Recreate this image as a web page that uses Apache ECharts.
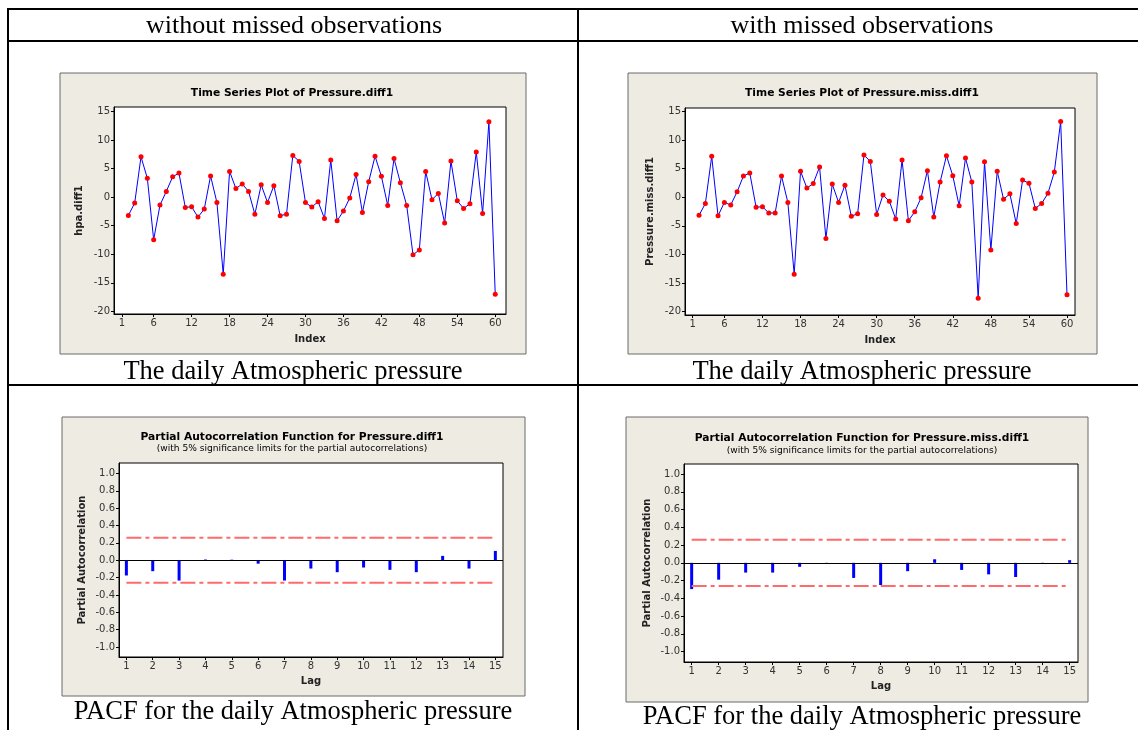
<!DOCTYPE html>
<html>
<head>
<meta charset="utf-8">
<script src="https://cdn.jsdelivr.net/npm/echarts@6/dist/echarts.min.js"></script>
<style>
html, body { margin: 0; padding: 0; background: #fff; }
#charts { width: 1138px; height: 730px; }
</style>
</head>
<body>
<div id="charts"></div>
<script>
// observation index of the differenced series (first value lost by differencing)
var obsIndex = [2,3,4,5,6,7,8,9,10,11,12,13,14,15,16,17,18,19,20,21,22,23,24,25,26,27,28,29,30,31,
	32,33,34,35,36,37,38,39,40,41,42,43,44,45,46,47,48,49,50,51,52,53,54,55,56,57,58,59,60];

var pressureDiff = [-3.2,-1.05,7.05,3.3,-7.45,-1.4,1.0,3.55,4.2,-1.8,-1.7,-3.5,-2.1,3.7,-0.95,-13.5,4.5,1.5,2.3,1.0,
	-3.0,2.15,-0.95,2.0,-3.25,-3.0,7.3,6.25,-0.95,-1.75,-0.8,-3.75,6.5,-4.15,-2.45,-0.15,3.95,-2.7,2.7,7.15,
	3.65,-1.45,6.75,2.5,-1.45,-10.1,-9.25,4.5,-0.45,0.65,-4.55,6.3,-0.65,-2.0,-1.15,7.9,-2.85,13.2,-17.0];

var pressureMissDiff = [-3.15,-1.1,7.15,-3.25,-0.9,-1.35,0.95,3.7,4.25,-1.75,-1.65,-2.75,-2.75,3.7,-0.9,-13.45,4.55,1.6,2.4,5.3,
	-7.2,2.3,-0.9,2.1,-3.3,-2.9,7.4,6.25,-3.0,0.4,-0.7,-3.8,6.5,-4.1,-2.55,-0.1,4.65,-3.45,2.65,7.25,
	3.75,-1.5,6.85,2.65,-17.65,6.2,-9.2,4.55,-0.35,0.6,-4.6,3.0,2.45,-1.95,-1.1,0.7,4.4,13.25,-17.05];

var lags = [1,2,3,4,5,6,7,8,9,10,11,12,13,14,15];
var pacfDiff = [-0.176,-0.126,-0.234,0.008,0.006,-0.04,-0.234,-0.096,-0.138,-0.084,-0.111,-0.138,0.05,-0.096,0.107];
var pacfMissDiff = [-0.296,-0.19,-0.11,-0.11,-0.045,-0.01,-0.17,-0.25,-0.094,0.04,-0.08,-0.13,-0.16,-0.007,0.03];
var sigLimit = 0.26;

var indexTicks = [1,6,12,18,24,30,36,42,48,54,60];
var tsTicks = [-20,-15,-10,-5,0,5,10,15];
var pacfTicks = [-1,-0.8,-0.6,-0.4,-0.2,0,0.2,0.4,0.6,0.8,1];

var myChart = echarts.init(document.getElementById('charts'));

var tickFont = '"DejaVu Sans", sans-serif';
var serif = '"Liberation Serif", "Times New Roman", serif';

function pairs(xs, ys){
	var out = [];
	for(var i = 0; i < xs.length; i++){
		out.push([xs[i], ys[i]]);
	}
	return out;
}

function xAxisCfg(grid, min, max, ticks, name, gap){
	return {
		type: 'value', gridIndex: grid, min: min, max: max,
		name: name, nameLocation: 'middle', nameGap: gap,
		nameTextStyle: { fontFamily: tickFont, fontWeight: 'bold', fontSize: 10, color: '#222' },
		axisLine: { show: true, onZero: false, lineStyle: { color: '#000', width: 1 } },
		axisTick: { show: true, length: 3, customValues: ticks, lineStyle: { color: '#000' } },
		axisLabel: { customValues: ticks, fontFamily: tickFont, fontSize: 10, color: '#333', margin: 4 },
		splitLine: { show: false }
	};
}

function yAxisCfg(grid, min, max, ticks, name, gap, fmt){
	return {
		type: 'value', gridIndex: grid, min: min, max: max,
		name: name, nameLocation: 'middle', nameGap: gap, nameRotate: 90,
		nameTextStyle: { fontFamily: tickFont, fontWeight: 'bold', fontSize: 10, color: '#222' },
		axisLine: { show: true, onZero: false, lineStyle: { color: '#000', width: 1 } },
		axisTick: { show: true, length: 3, customValues: ticks, lineStyle: { color: '#000' } },
		axisLabel: { customValues: ticks, fontFamily: tickFont, fontSize: 10, color: '#333', margin: 4, formatter: fmt },
		splitLine: { show: false }
	};
}

function tsSeries(idx, values){
	return {
		type: 'line', xAxisIndex: idx, yAxisIndex: idx,
		data: pairs(obsIndex, values),
		symbol: 'circle', symbolSize: 5,
		itemStyle: { color: '#ff0000' },
		lineStyle: { color: '#0000ff', width: 1 },
		z: 3
	};
}

function pacfSeries(idx, values){
	return [{
		type: 'bar', xAxisIndex: idx, yAxisIndex: idx,
		data: pairs(lags, values), barWidth: 3,
		itemStyle: { color: '#0000ff' },
		markLine: {
			silent: true, symbol: 'none', label: { show: false },
			lineStyle: { color: '#000', width: 1, type: 'solid' },
			data: [{ yAxis: 0 }]
		}
	}, {
		type: 'line', xAxisIndex: idx, yAxisIndex: idx, symbol: 'none',
		data: [[lags[0], sigLimit], [lags[lags.length-1], sigLimit]],
		lineStyle: { color: '#ff6a6a', width: 2, type: [15, 4, 4, 4] }
	}, {
		type: 'line', xAxisIndex: idx, yAxisIndex: idx, symbol: 'none',
		data: [[lags[0], -sigLimit], [lags[lags.length-1], -sigLimit]],
		lineStyle: { color: '#ff6a6a', width: 2, type: [15, 4, 4, 4] }
	}];
}

function oneDec(v){ return v.toFixed(1); }

function txt(x, y, text, font){
	return {
		type: 'text', x: x, y: y, z: 100,
		style: { text: text, font: font, fill: '#000', align: 'center', verticalAlign: 'middle' }
	};
}

function line(x1, y1, x2, y2){
	return { type: 'line', z: 100, shape: { x1: x1, y1: y1, x2: x2, y2: y2 }, style: { stroke: '#000', lineWidth: 2 } };
}

function panel(x, y, w, h){
	return { type: 'rect', z: -10, shape: { x: x, y: y, width: w, height: h }, style: { fill: '#eeebe2', stroke: '#6b6b6b', lineWidth: 1 } };
}

var titleFont = 'bold 10.7px "DejaVu Sans", sans-serif';
var subFont = '9.1px "DejaVu Sans", sans-serif';
var headFont = '26px ' + serif;
var capFont = '26.5px ' + serif;

var gridStyle = { show: true, backgroundColor: '#fff', borderColor: '#000', borderWidth: 1 };

var option = {
	animation: false,
	backgroundColor: '#fff',
	grid: [
		Object.assign({ left: 114, top: 107, width: 392, height: 207 }, gridStyle),
		Object.assign({ left: 685, top: 108, width: 390, height: 207 }, gridStyle),
		Object.assign({ left: 119, top: 463, width: 384, height: 194 }, gridStyle),
		Object.assign({ left: 684, top: 464, width: 394, height: 198 }, gridStyle)
	],
	xAxis: [
		xAxisCfg(0, -0.27, 61.7, indexTicks, 'Index', 20),
		xAxisCfg(1, -0.21, 61.26, indexTicks, 'Index', 20),
		xAxisCfg(2, 0.72, 15.29, lags, 'Lag', 19),
		xAxisCfg(3, 0.716, 15.31, lags, 'Lag', 19)
	],
	yAxis: [
		yAxisCfg(0, -20.46, 15.77, tsTicks, 'hpa.diff1', 30),
		yAxisCfg(1, -20.58, 15.6, tsTicks, 'Pressure.miss.diff1', 30),
		yAxisCfg(2, -1.115, 1.12, pacfTicks, 'Partial Autocorrelation', 32, oneDec),
		yAxisCfg(3, -1.118, 1.114, pacfTicks, 'Partial Autocorrelation', 32, oneDec)
	],
	series: [tsSeries(0, pressureDiff), tsSeries(1, pressureMissDiff)]
		.concat(pacfSeries(2, pacfDiff))
		.concat(pacfSeries(3, pacfMissDiff)),
	graphic: [
		panel(60, 73, 466, 281),
		panel(628, 73, 469, 281),
		panel(62, 417, 463, 279),
		panel(626, 417, 462, 285),
		line(7, 9, 1138, 9),
		line(7, 41, 1138, 41),
		line(7, 385, 1138, 385),
		line(8, 8, 8, 730),
		line(578, 8, 578, 730),
		txt(294, 26, 'without missed observations', headFont),
		txt(862, 26, 'with missed observations', headFont),
		txt(293, 372, 'The daily Atmospheric pressure', capFont),
		txt(862, 372, 'The daily Atmospheric pressure', capFont),
		txt(293, 712, 'PACF for the daily Atmospheric pressure', capFont),
		txt(862, 717, 'PACF for the daily Atmospheric pressure', capFont),
		txt(292, 93, 'Time Series Plot of Pressure.diff1', titleFont),
		txt(862, 93, 'Time Series Plot of Pressure.miss.diff1', titleFont),
		txt(292, 437, 'Partial Autocorrelation Function for Pressure.diff1', titleFont),
		txt(292, 449, '(with 5% significance limits for the partial autocorrelations)', subFont),
		txt(862, 438, 'Partial Autocorrelation Function for Pressure.miss.diff1', titleFont),
		txt(862, 451, '(with 5% significance limits for the partial autocorrelations)', subFont)
	]
};

myChart.setOption(option);
</script>
</body>
</html>
